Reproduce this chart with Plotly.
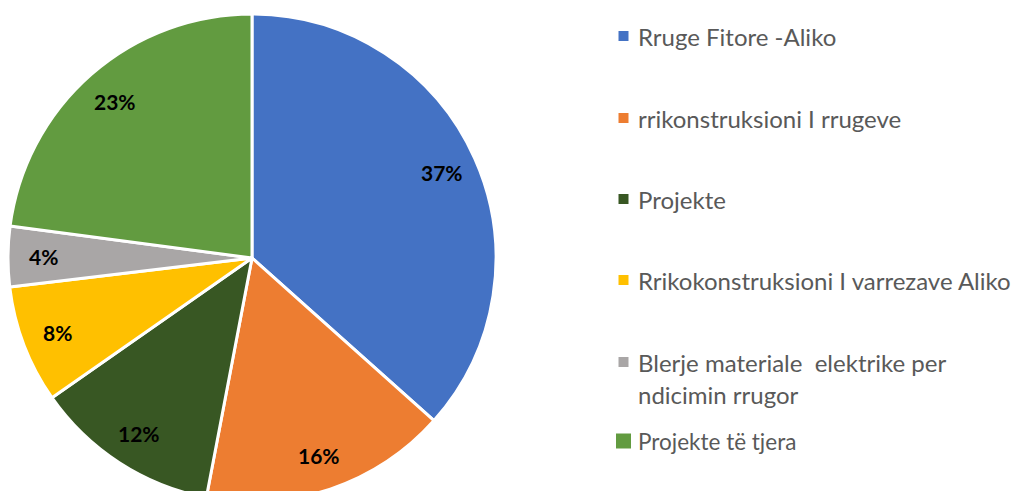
import numpy as np
import plotly.graph_objects as go

categories = [
    "Rruge Fitore -Aliko",
    "rrikonstruksioni I rrugeve",
    "Projekte",
    "Rrikokonstruksioni I varrezave Aliko",
    "Blerje materiale\u00a0 elektrike per\nndicimin rrugor",
    "Projekte të tjera",
]
values = [36.6, 16.4, 12.3, 7.8, 4.0, 22.9]
colors = ["#4472C4", "#ED7D31", "#385723", "#FFC000", "#A9A6A6", "#629B40"]

W, H = 1026, 502
cx, cy, R = 252, 258, 244

fig = go.Figure(
    go.Pie(
        labels=[c.replace("\n", " ") for c in categories],
        values=values,
        sort=False,
        direction="clockwise",
        rotation=0,
        marker=dict(colors=colors, line=dict(color="white", width=3)),
        textinfo="none",
        showlegend=False,
        domain=dict(x=[(cx - R) / W, (cx + R) / W], y=[(H - cy - R) / H, (H - cy + R) / H]),
    )
)

# percentage labels placed along each slice's mid-angle
vals = np.array(values, dtype=float)
frac = vals / vals.sum()
mids = np.cumsum(frac) - frac / 2
theta = mids * 2 * np.pi
rl = 0.855 * R
annotations = []
for f, t in zip(frac, theta):
    px = cx + rl * np.sin(t)
    py = cy - rl * np.cos(t)
    annotations.append(dict(
        x=px / W, y=1 - py / H, xref="paper", yref="paper",
        text=f"<b>{round(f * 100)}%</b>", showarrow=False,
        font=dict(family="Lato", size=21, color="#000000"),
        xanchor="center", yanchor="middle",
    ))

# legend built from categories
leg_y = [36, 118, 199, 280, 362, 441]
leg_sizes = [24, 24, 24, 24, 24, 22.5]
sq = [10, 10, 10, 10, 10, 15]
shapes = []
for cat, col, y0, fs, s in zip(categories, colors, leg_y, leg_sizes, sq):
    lines = cat.split("\n")
    for i, ln in enumerate(lines):
        yy = y0 + i * 32
        annotations.append(dict(
            x=636 / W, y=1 - yy / H, xref="paper", yref="paper",
            text=ln, showarrow=False, xanchor="left", yanchor="middle",
            font=dict(family="Lato", size=fs, color="#595959"),
        ))
    shapes.append(dict(
        type="rect", xref="paper", yref="paper",
        x0=(623.5 - s / 2) / W, x1=(623.5 + s / 2) / W,
        y0=1 - (y0 + s / 2) / H, y1=1 - (y0 - s / 2) / H,
        fillcolor=col, line=dict(width=0),
    ))

fig.update_layout(
    width=W, height=H,
    margin=dict(l=0, r=0, t=0, b=0),
    paper_bgcolor="white", plot_bgcolor="white",
    annotations=annotations, shapes=shapes,
)

fig.write_html(
    "out.html",
    post_script="document.documentElement.style.overflow='hidden';document.body.style.overflow='hidden';document.body.style.margin='0';",
)
